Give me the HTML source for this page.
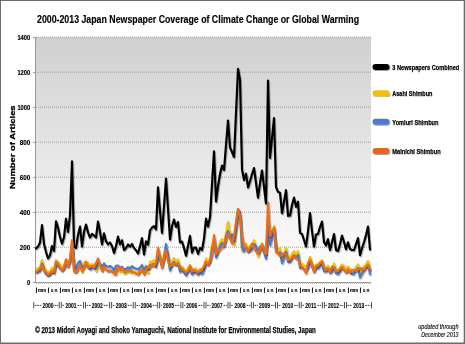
<!DOCTYPE html><html><head><meta charset="utf-8"><style>html,body{margin:0;padding:0;background:#fff;}svg{display:block;will-change:transform;}</style></head><body>
<svg width="465" height="344" viewBox="0 0 465 344">
<defs>
<linearGradient id="bg" x1="0" y1="0" x2="0" y2="1">
<stop offset="0" stop-color="#d0d0d0"/>
<stop offset="0.58" stop-color="#ebebeb"/>
<stop offset="0.8" stop-color="#f6f6f6"/>
<stop offset="1" stop-color="#ffffff"/>
</linearGradient>
<filter id="sh" x="-5%" y="-5%" width="110%" height="115%">
<feDropShadow dx="0.8" dy="1.2" stdDeviation="0.7" flood-color="#000" flood-opacity="0.35"/>
</filter>
</defs>
<rect x="0" y="0" width="465" height="344" fill="#fff"/>
<rect x="35.5" y="37" width="335.5" height="245" fill="url(#bg)"/>
<line x1="36" y1="247.2" x2="371" y2="247.2" stroke="#9e9e9e" stroke-width="1" stroke-dasharray="1,1"/>
<line x1="36" y1="212.2" x2="371" y2="212.2" stroke="#9e9e9e" stroke-width="1" stroke-dasharray="1,1"/>
<line x1="36" y1="177.2" x2="371" y2="177.2" stroke="#9e9e9e" stroke-width="1" stroke-dasharray="1,1"/>
<line x1="36" y1="142.2" x2="371" y2="142.2" stroke="#9e9e9e" stroke-width="1" stroke-dasharray="1,1"/>
<line x1="36" y1="107.2" x2="371" y2="107.2" stroke="#9e9e9e" stroke-width="1" stroke-dasharray="1,1"/>
<line x1="36" y1="72.2" x2="371" y2="72.2" stroke="#9e9e9e" stroke-width="1" stroke-dasharray="1,1"/>
<line x1="36" y1="37.2" x2="371" y2="37.2" stroke="#9e9e9e" stroke-width="1" stroke-dasharray="1,1"/>
<line x1="35.5" y1="37" x2="35.5" y2="282.5" stroke="#9a9a9a" stroke-width="1"/>
<line x1="33" y1="282.5" x2="35.5" y2="282.5" stroke="#9a9a9a" stroke-width="1"/>
<line x1="33" y1="247.5" x2="35.5" y2="247.5" stroke="#9a9a9a" stroke-width="1"/>
<line x1="33" y1="212.5" x2="35.5" y2="212.5" stroke="#9a9a9a" stroke-width="1"/>
<line x1="33" y1="177.5" x2="35.5" y2="177.5" stroke="#9a9a9a" stroke-width="1"/>
<line x1="33" y1="142.5" x2="35.5" y2="142.5" stroke="#9a9a9a" stroke-width="1"/>
<line x1="33" y1="107.5" x2="35.5" y2="107.5" stroke="#9a9a9a" stroke-width="1"/>
<line x1="33" y1="72.5" x2="35.5" y2="72.5" stroke="#9a9a9a" stroke-width="1"/>
<line x1="33" y1="37.5" x2="35.5" y2="37.5" stroke="#9a9a9a" stroke-width="1"/>
<line x1="35.5" y1="282.5" x2="371" y2="282.5" stroke="#8a8a8a" stroke-width="1"/>
<path d="M36.5,282 V284 M38.5,282 V284 M40.5,282 V284 M42.5,282 V284 M44.5,282 V284 M46.5,282 V284 M48.5,282 V284 M50.5,282 V284 M52.5,282 V284 M54.5,282 V284 M56.5,282 V284 M58.5,282 V284 M60.5,282 V284 M62.5,282 V284 M64.5,282 V284 M66.5,282 V284 M68.5,282 V284 M70.5,282 V284 M72.5,282 V284 M74.5,282 V284 M76.5,282 V284 M78.5,282 V284 M80.5,282 V284 M82.5,282 V284 M84.5,282 V284 M86.5,282 V284 M88.5,282 V284 M90.5,282 V284 M92.5,282 V284 M94.5,282 V284 M96.5,282 V284 M98.5,282 V284 M100.5,282 V284 M102.5,282 V284 M104.5,282 V284 M106.5,282 V284 M108.5,282 V284 M110.5,282 V284 M112.5,282 V284 M114.5,282 V284 M116.5,282 V284 M118.5,282 V284 M120.5,282 V284 M122.5,282 V284 M124.5,282 V284 M126.5,282 V284 M128.5,282 V284 M130.5,282 V284 M132.5,282 V284 M134.5,282 V284 M136.5,282 V284 M138.5,282 V284 M140.5,282 V284 M142.5,282 V284 M144.5,282 V284 M146.5,282 V284 M148.5,282 V284 M150.5,282 V284 M152.5,282 V284 M154.5,282 V284 M156.5,282 V284 M158.5,282 V284 M160.5,282 V284 M162.5,282 V284 M164.5,282 V284 M166.5,282 V284 M168.5,282 V284 M170.5,282 V284 M172.5,282 V284 M174.5,282 V284 M176.5,282 V284 M178.5,282 V284 M180.5,282 V284 M182.5,282 V284 M184.5,282 V284 M186.5,282 V284 M188.5,282 V284 M190.5,282 V284 M192.5,282 V284 M194.5,282 V284 M196.5,282 V284 M198.5,282 V284 M200.5,282 V284 M202.5,282 V284 M204.5,282 V284 M206.5,282 V284 M208.5,282 V284 M210.5,282 V284 M212.5,282 V284 M214.5,282 V284 M216.5,282 V284 M218.5,282 V284 M220.5,282 V284 M222.5,282 V284 M224.5,282 V284 M226.5,282 V284 M228.5,282 V284 M230.5,282 V284 M232.5,282 V284 M234.5,282 V284 M236.5,282 V284 M238.5,282 V284 M240.5,282 V284 M242.5,282 V284 M244.5,282 V284 M246.5,282 V284 M248.5,282 V284 M250.5,282 V284 M252.5,282 V284 M254.5,282 V284 M256.5,282 V284 M258.5,282 V284 M260.5,282 V284 M262.5,282 V284 M264.5,282 V284 M266.5,282 V284 M268.5,282 V284 M270.5,282 V284 M272.5,282 V284 M274.5,282 V284 M276.5,282 V284 M278.5,282 V284 M280.5,282 V284 M282.5,282 V284 M284.5,282 V284 M286.5,282 V284 M288.5,282 V284 M290.5,282 V284 M292.5,282 V284 M294.5,282 V284 M296.5,282 V284 M298.5,282 V284 M300.5,282 V284 M302.5,282 V284 M304.5,282 V284 M306.5,282 V284 M308.5,282 V284 M310.5,282 V284 M312.5,282 V284 M314.5,282 V284 M316.5,282 V284 M318.5,282 V284 M320.5,282 V284 M322.5,282 V284 M324.5,282 V284 M326.5,282 V284 M328.5,282 V284 M330.5,282 V284 M332.5,282 V284 M334.5,282 V284 M336.5,282 V284 M338.5,282 V284 M340.5,282 V284 M342.5,282 V284 M344.5,282 V284 M346.5,282 V284 M348.5,282 V284 M350.5,282 V284 M352.5,282 V284 M354.5,282 V284 M356.5,282 V284 M358.5,282 V284 M360.5,282 V284 M362.5,282 V284 M364.5,282 V284 M366.5,282 V284 M368.5,282 V284 M370.5,282 V284" stroke="#b4b4b4" stroke-width="1" fill="none"/>
<path d="M36.0,248.5 L38.0,246.5 L40.0,242.5 L42.0,225.0 L44.0,244.0 L46.0,252.0 L48.0,258.5 L50.0,255.3 L52.0,246.0 L54.0,251.0 L56.0,221.3 L58.0,227.6 L60.0,237.0 L62.0,243.8 L64.0,237.0 L66.0,218.7 L68.0,231.8 L70.0,215.0 L72.0,161.3 L74.0,246.0 L76.0,248.0 L78.0,235.0 L80.0,226.5 L82.0,246.4 L84.0,232.0 L86.0,224.5 L88.0,232.3 L90.0,237.5 L92.0,233.9 L94.0,235.4 L96.0,237.5 L98.0,221.5 L100.0,231.8 L102.0,244.3 L104.0,233.3 L106.0,241.2 L108.0,244.3 L110.0,242.5 L112.0,246.0 L114.0,253.0 L116.0,246.0 L118.0,236.5 L120.0,244.4 L122.0,240.3 L124.0,250.0 L126.0,248.0 L128.0,244.5 L130.0,246.6 L132.0,244.0 L134.0,248.1 L136.0,250.2 L138.0,253.4 L140.0,246.0 L142.0,238.2 L144.0,254.4 L146.0,241.3 L148.0,244.5 L150.0,230.4 L152.0,227.5 L154.0,226.2 L156.0,229.3 L158.0,187.3 L160.0,211.0 L162.0,233.0 L164.0,206.0 L166.0,178.5 L168.0,209.0 L170.0,239.5 L172.0,226.0 L174.0,219.5 L176.0,227.0 L178.0,222.0 L180.0,242.5 L182.0,241.6 L184.0,248.0 L186.0,255.7 L188.0,246.0 L190.0,235.8 L192.0,252.6 L194.0,247.5 L196.0,247.5 L198.0,254.0 L200.0,248.0 L202.0,250.0 L204.0,238.5 L206.0,218.5 L208.0,226.6 L210.0,217.0 L212.0,184.0 L214.0,151.3 L216.0,201.5 L218.0,186.0 L220.0,174.0 L222.0,165.5 L224.0,170.0 L226.0,145.0 L228.0,120.5 L230.0,147.5 L232.0,152.0 L234.0,157.0 L236.0,113.0 L238.0,68.8 L240.0,80.0 L242.0,169.5 L244.0,180.0 L246.0,173.7 L248.0,187.3 L250.0,181.0 L252.0,174.0 L254.0,168.0 L256.0,183.0 L258.0,197.6 L260.0,183.0 L262.0,170.5 L264.0,187.0 L266.0,203.5 L268.0,80.5 L270.0,158.0 L272.0,138.0 L274.0,118.0 L276.0,187.0 L278.0,191.8 L280.0,192.8 L282.0,213.2 L284.0,201.7 L286.0,190.2 L288.0,215.8 L290.0,215.5 L292.0,205.0 L294.0,197.5 L296.0,206.9 L298.0,201.7 L300.0,232.9 L302.0,234.0 L304.0,240.0 L306.0,246.5 L308.0,231.0 L310.0,213.0 L312.0,231.0 L314.0,246.5 L316.0,234.5 L318.0,234.0 L320.0,227.0 L322.0,221.5 L324.0,242.2 L326.0,245.3 L328.0,239.2 L330.0,250.0 L332.0,242.0 L334.0,234.0 L336.0,250.0 L338.0,251.0 L340.0,244.0 L342.0,235.5 L344.0,242.0 L346.0,249.3 L348.0,242.3 L350.0,249.0 L352.0,250.0 L354.0,250.0 L356.0,244.0 L358.0,238.0 L360.0,255.1 L362.0,248.0 L364.0,242.0 L366.0,235.0 L368.0,226.5 L370.0,249.5" fill="none" stroke="#000" stroke-width="2.15" stroke-linejoin="round" stroke-linecap="round" filter="url(#sh)"/>
<path d="M36.0,268.4 L38.0,268.2 L40.0,267.0 L42.0,259.8 L44.0,266.9 L46.0,270.1 L48.0,272.1 L50.0,271.2 L52.0,267.4 L54.0,269.6 L56.0,260.0 L58.0,262.1 L60.0,264.7 L62.0,266.8 L64.0,265.0 L66.0,259.8 L68.0,262.7 L70.0,257.9 L72.0,240.8 L74.0,271.2 L76.0,271.9 L78.0,266.7 L80.0,264.6 L82.0,271.9 L84.0,262.2 L86.0,261.4 L88.0,262.4 L90.0,265.5 L92.0,264.2 L94.0,264.2 L96.0,271.1 L98.0,265.4 L100.0,267.5 L102.0,270.8 L104.0,267.2 L106.0,269.8 L108.0,270.5 L110.0,269.6 L112.0,271.2 L114.0,273.9 L116.0,269.6 L118.0,269.3 L120.0,271.4 L122.0,270.4 L124.0,273.2 L126.0,272.7 L128.0,270.9 L130.0,272.2 L132.0,269.9 L134.0,271.7 L136.0,272.2 L138.0,273.3 L140.0,271.2 L142.0,268.8 L144.0,274.1 L146.0,269.9 L148.0,272.8 L150.0,261.4 L152.0,261.8 L154.0,260.1 L156.0,263.2 L158.0,249.8 L160.0,256.6 L162.0,262.7 L164.0,254.1 L166.0,248.0 L168.0,254.1 L170.0,266.5 L172.0,260.6 L174.0,258.1 L176.0,261.6 L178.0,259.3 L180.0,268.0 L182.0,266.5 L184.0,268.9 L186.0,271.7 L188.0,267.9 L190.0,265.2 L192.0,270.7 L194.0,268.9 L196.0,268.4 L198.0,270.9 L200.0,268.9 L202.0,270.5 L204.0,266.2 L206.0,258.6 L208.0,261.1 L210.0,258.4 L212.0,245.0 L214.0,238.2 L216.0,253.6 L218.0,247.5 L220.0,242.5 L222.0,239.1 L224.0,242.8 L226.0,232.8 L228.0,222.0 L230.0,234.8 L232.0,238.2 L234.0,244.4 L236.0,229.4 L238.0,213.9 L240.0,215.9 L242.0,250.7 L244.0,247.3 L246.0,243.4 L248.0,248.0 L250.0,246.9 L252.0,245.3 L254.0,240.2 L256.0,249.7 L258.0,256.1 L260.0,250.5 L262.0,243.1 L264.0,248.7 L266.0,254.8 L268.0,219.2 L270.0,241.1 L272.0,233.6 L274.0,226.0 L276.0,248.1 L278.0,249.5 L280.0,248.4 L282.0,259.4 L284.0,254.4 L286.0,247.8 L288.0,258.1 L290.0,258.2 L292.0,253.7 L294.0,251.2 L296.0,254.7 L298.0,251.1 L300.0,264.1 L302.0,263.6 L304.0,265.3 L306.0,266.7 L308.0,264.2 L310.0,256.8 L312.0,263.2 L314.0,267.3 L316.0,264.4 L318.0,264.4 L320.0,262.0 L322.0,260.2 L324.0,267.7 L326.0,267.7 L328.0,265.7 L330.0,269.0 L332.0,267.9 L334.0,263.4 L336.0,269.5 L338.0,270.2 L340.0,267.6 L342.0,264.4 L344.0,266.3 L346.0,268.7 L348.0,266.7 L350.0,268.5 L352.0,270.1 L354.0,270.1 L356.0,266.8 L358.0,264.3 L360.0,273.7 L362.0,269.8 L364.0,266.3 L366.0,264.4 L368.0,260.9 L370.0,270.3" fill="none" stroke="#f5c400" stroke-width="2.15" stroke-linejoin="round" stroke-linecap="round" filter="url(#sh)"/>
<path d="M36.0,272.1 L38.0,271.9 L40.0,270.8 L42.0,263.6 L44.0,270.7 L46.0,273.9 L48.0,275.8 L50.0,275.0 L52.0,271.2 L54.0,273.4 L56.0,263.8 L58.0,265.9 L60.0,268.5 L62.0,270.6 L64.0,268.8 L66.0,263.6 L68.0,266.4 L70.0,261.7 L72.0,244.6 L74.0,267.4 L76.0,268.1 L78.0,262.9 L80.0,260.9 L82.0,268.1 L84.0,266.0 L86.0,265.1 L88.0,266.1 L90.0,269.3 L92.0,268.0 L94.0,267.9 L96.0,267.4 L98.0,261.7 L100.0,263.7 L102.0,267.1 L104.0,263.4 L106.0,266.1 L108.0,266.8 L110.0,265.9 L112.0,267.4 L114.0,270.1 L116.0,265.8 L118.0,265.5 L120.0,267.7 L122.0,266.6 L124.0,269.4 L126.0,268.9 L128.0,267.2 L130.0,268.5 L132.0,266.1 L134.0,267.9 L136.0,268.5 L138.0,269.5 L140.0,267.4 L142.0,265.1 L144.0,270.3 L146.0,266.1 L148.0,269.0 L150.0,265.2 L152.0,265.6 L154.0,263.9 L156.0,267.0 L158.0,253.7 L160.0,260.4 L162.0,266.5 L164.0,257.9 L166.0,244.0 L168.0,257.9 L170.0,270.3 L172.0,264.4 L174.0,261.8 L176.0,265.3 L178.0,263.1 L180.0,271.8 L182.0,270.3 L184.0,272.7 L186.0,275.5 L188.0,271.7 L190.0,268.9 L192.0,274.5 L194.0,272.7 L196.0,272.2 L198.0,274.6 L200.0,272.7 L202.0,274.2 L204.0,270.0 L206.0,262.4 L208.0,264.9 L210.0,262.1 L212.0,248.8 L214.0,242.1 L216.0,257.4 L218.0,251.3 L220.0,246.3 L222.0,242.9 L224.0,246.6 L226.0,236.7 L228.0,231.0 L230.0,238.7 L232.0,234.3 L234.0,240.6 L236.0,225.6 L238.0,210.1 L240.0,212.1 L242.0,246.8 L244.0,251.2 L246.0,247.2 L248.0,251.8 L250.0,250.8 L252.0,249.2 L254.0,244.1 L256.0,245.9 L258.0,252.3 L260.0,246.7 L262.0,246.9 L264.0,252.5 L266.0,258.6 L268.0,223.0 L270.0,244.9 L272.0,237.4 L274.0,228.0 L276.0,251.9 L278.0,253.3 L280.0,252.2 L282.0,263.1 L284.0,258.2 L286.0,251.7 L288.0,261.9 L290.0,261.9 L292.0,257.5 L294.0,255.1 L296.0,258.4 L298.0,254.9 L300.0,267.9 L302.0,267.4 L304.0,269.1 L306.0,270.5 L308.0,268.0 L310.0,260.5 L312.0,266.9 L314.0,271.1 L316.0,268.1 L318.0,268.2 L320.0,265.8 L322.0,264.0 L324.0,271.5 L326.0,271.5 L328.0,269.5 L330.0,272.8 L332.0,271.6 L334.0,267.1 L336.0,273.3 L338.0,274.0 L340.0,271.3 L342.0,268.1 L344.0,270.1 L346.0,272.4 L348.0,270.5 L350.0,272.3 L352.0,273.8 L354.0,273.8 L356.0,270.5 L358.0,268.1 L360.0,277.4 L362.0,273.6 L364.0,270.1 L366.0,268.1 L368.0,264.7 L370.0,274.1" fill="none" stroke="#4a78cc" stroke-width="2.15" stroke-linejoin="round" stroke-linecap="round" filter="url(#sh)"/>
<path d="M36.0,272.0 L38.0,270.4 L40.0,268.8 L42.0,265.7 L44.0,270.4 L46.0,272.0 L48.0,274.6 L50.0,273.0 L52.0,271.4 L54.0,272.0 L56.0,261.5 L58.0,263.6 L60.0,267.8 L62.0,270.4 L64.0,267.3 L66.0,259.4 L68.0,266.7 L70.0,259.4 L72.0,240.0 L74.0,271.4 L76.0,272.0 L78.0,269.3 L80.0,265.0 L82.0,270.4 L84.0,267.8 L86.0,262.0 L88.0,267.8 L90.0,266.7 L92.0,265.7 L94.0,267.3 L96.0,263.0 L98.0,258.4 L100.0,264.6 L102.0,270.4 L104.0,266.7 L106.0,269.3 L108.0,271.0 L110.0,271.0 L112.0,271.4 L114.0,273.0 L116.0,274.6 L118.0,265.7 L120.0,269.3 L122.0,267.3 L124.0,271.4 L126.0,270.4 L128.0,270.4 L130.0,269.9 L132.0,272.0 L134.0,272.5 L136.0,273.5 L138.0,274.6 L140.0,271.4 L142.0,268.3 L144.0,274.0 L146.0,269.3 L148.0,266.7 L150.0,267.8 L152.0,264.1 L154.0,266.2 L156.0,263.1 L158.0,247.8 L160.0,258.0 L162.0,267.8 L164.0,258.0 L166.0,250.0 L168.0,261.0 L170.0,266.7 L172.0,265.0 L174.0,263.6 L176.0,264.1 L178.0,263.6 L180.0,266.7 L182.0,268.8 L184.0,270.4 L186.0,272.5 L188.0,270.4 L190.0,265.7 L192.0,271.4 L194.0,269.9 L196.0,270.9 L198.0,272.5 L200.0,270.4 L202.0,269.3 L204.0,266.2 L206.0,261.5 L208.0,264.6 L210.0,260.5 L212.0,254.2 L214.0,235.0 L216.0,254.5 L218.0,251.2 L220.0,249.2 L222.0,247.5 L224.0,244.6 L226.0,239.5 L228.0,233.6 L230.0,238.0 L232.0,243.5 L234.0,236.0 L236.0,222.0 L238.0,208.8 L240.0,216.0 L242.0,236.0 L244.0,245.5 L246.0,247.0 L248.0,251.5 L250.0,247.3 L252.0,243.5 L254.0,247.7 L256.0,251.4 L258.0,253.2 L260.0,249.8 L262.0,244.4 L264.0,249.8 L266.0,254.0 L268.0,202.3 L270.0,236.0 L272.0,231.0 L274.0,229.0 L276.0,251.0 L278.0,253.1 L280.0,256.2 L282.0,254.7 L284.0,253.1 L286.0,254.7 L288.0,259.9 L290.0,259.4 L292.0,257.8 L294.0,255.2 L296.0,257.8 L298.0,259.6 L300.0,264.9 L302.0,267.0 L304.0,269.6 L306.0,273.3 L308.0,262.8 L310.0,259.7 L312.0,264.9 L314.0,272.2 L316.0,266.0 L318.0,265.4 L320.0,263.3 L322.0,261.3 L324.0,267.0 L326.0,270.1 L328.0,268.0 L330.0,272.2 L332.0,266.5 L334.0,267.5 L336.0,271.2 L338.0,270.7 L340.0,269.1 L342.0,267.0 L344.0,269.6 L346.0,272.2 L348.0,269.1 L350.0,272.2 L352.0,270.1 L354.0,270.1 L356.0,270.7 L358.0,269.6 L360.0,268.0 L362.0,268.6 L364.0,269.6 L366.0,266.5 L368.0,264.9 L370.0,269.1" fill="none" stroke="#ee6a1a" stroke-width="2.15" stroke-linejoin="round" stroke-linecap="round" filter="url(#sh)"/>
<text x="37" y="22.7" font-family='"Liberation Sans", sans-serif' font-weight="bold" font-size="10.2" textLength="322" lengthAdjust="spacingAndGlyphs" fill="#000" stroke="#000" stroke-width="0.15">2000-2013 Japan Newspaper Coverage of Climate Change or Global Warming</text>
<text x="30.2" y="284.7" font-family='"Liberation Sans", sans-serif' font-weight="bold" font-size="7.6" text-anchor="end" textLength="3.3" lengthAdjust="spacingAndGlyphs" fill="#000" stroke="#000" stroke-width="0.2">0</text>
<text x="30.2" y="249.7" font-family='"Liberation Sans", sans-serif' font-weight="bold" font-size="7.6" text-anchor="end" textLength="10.5" lengthAdjust="spacingAndGlyphs" fill="#000" stroke="#000" stroke-width="0.2">200</text>
<text x="30.2" y="214.7" font-family='"Liberation Sans", sans-serif' font-weight="bold" font-size="7.6" text-anchor="end" textLength="10.5" lengthAdjust="spacingAndGlyphs" fill="#000" stroke="#000" stroke-width="0.2">400</text>
<text x="30.2" y="179.7" font-family='"Liberation Sans", sans-serif' font-weight="bold" font-size="7.6" text-anchor="end" textLength="10.5" lengthAdjust="spacingAndGlyphs" fill="#000" stroke="#000" stroke-width="0.2">600</text>
<text x="30.2" y="144.7" font-family='"Liberation Sans", sans-serif' font-weight="bold" font-size="7.6" text-anchor="end" textLength="10.5" lengthAdjust="spacingAndGlyphs" fill="#000" stroke="#000" stroke-width="0.2">800</text>
<text x="30.2" y="109.7" font-family='"Liberation Sans", sans-serif' font-weight="bold" font-size="7.6" text-anchor="end" textLength="12.8" lengthAdjust="spacingAndGlyphs" fill="#000" stroke="#000" stroke-width="0.2">1000</text>
<text x="30.2" y="74.7" font-family='"Liberation Sans", sans-serif' font-weight="bold" font-size="7.6" text-anchor="end" textLength="12.8" lengthAdjust="spacingAndGlyphs" fill="#000" stroke="#000" stroke-width="0.2">1200</text>
<text x="30.2" y="39.7" font-family='"Liberation Sans", sans-serif' font-weight="bold" font-size="7.6" text-anchor="end" textLength="12.8" lengthAdjust="spacingAndGlyphs" fill="#000" stroke="#000" stroke-width="0.2">1400</text>
<text transform="translate(14.6,189.1) rotate(-90)" x="0" y="0" font-family='"Liberation Sans", sans-serif' font-weight="bold" font-size="7.8" textLength="83.7" lengthAdjust="spacingAndGlyphs" fill="#000" stroke="#000" stroke-width="0.3">Number of Articles</text>
<g font-family='"Liberation Sans", sans-serif' font-size="6.1" font-weight="bold" fill="#000" stroke="#000" stroke-width="0.12"><rect x="36.00" y="287.6" width="0.9" height="5.4" fill="#111"/><text x="40.0" y="291.7" text-anchor="middle" textLength="4.2" lengthAdjust="spacingAndGlyphs">m</text><text x="44.0" y="291.7" text-anchor="middle" textLength="4.2" lengthAdjust="spacingAndGlyphs">m</text><rect x="48.00" y="287.6" width="0.9" height="5.4" fill="#111"/><text x="52.0" y="291.7" text-anchor="middle" textLength="2.7" lengthAdjust="spacingAndGlyphs">s</text><text x="56.0" y="291.7" text-anchor="middle" textLength="2.9" lengthAdjust="spacingAndGlyphs">n</text><rect x="60.00" y="287.6" width="0.9" height="5.4" fill="#111"/><text x="64.0" y="291.7" text-anchor="middle" textLength="4.2" lengthAdjust="spacingAndGlyphs">m</text><text x="68.0" y="291.7" text-anchor="middle" textLength="4.2" lengthAdjust="spacingAndGlyphs">m</text><rect x="72.00" y="287.6" width="0.9" height="5.4" fill="#111"/><text x="76.0" y="291.7" text-anchor="middle" textLength="2.7" lengthAdjust="spacingAndGlyphs">s</text><text x="80.0" y="291.7" text-anchor="middle" textLength="2.9" lengthAdjust="spacingAndGlyphs">n</text><rect x="84.00" y="287.6" width="0.9" height="5.4" fill="#111"/><text x="88.0" y="291.7" text-anchor="middle" textLength="4.2" lengthAdjust="spacingAndGlyphs">m</text><text x="92.0" y="291.7" text-anchor="middle" textLength="4.2" lengthAdjust="spacingAndGlyphs">m</text><rect x="96.00" y="287.6" width="0.9" height="5.4" fill="#111"/><text x="100.0" y="291.7" text-anchor="middle" textLength="2.7" lengthAdjust="spacingAndGlyphs">s</text><text x="104.0" y="291.7" text-anchor="middle" textLength="2.9" lengthAdjust="spacingAndGlyphs">n</text><rect x="108.00" y="287.6" width="0.9" height="5.4" fill="#111"/><text x="112.0" y="291.7" text-anchor="middle" textLength="4.2" lengthAdjust="spacingAndGlyphs">m</text><text x="116.0" y="291.7" text-anchor="middle" textLength="4.2" lengthAdjust="spacingAndGlyphs">m</text><rect x="120.00" y="287.6" width="0.9" height="5.4" fill="#111"/><text x="124.0" y="291.7" text-anchor="middle" textLength="2.7" lengthAdjust="spacingAndGlyphs">s</text><text x="128.0" y="291.7" text-anchor="middle" textLength="2.9" lengthAdjust="spacingAndGlyphs">n</text><rect x="132.00" y="287.6" width="0.9" height="5.4" fill="#111"/><text x="136.0" y="291.7" text-anchor="middle" textLength="4.2" lengthAdjust="spacingAndGlyphs">m</text><text x="140.0" y="291.7" text-anchor="middle" textLength="4.2" lengthAdjust="spacingAndGlyphs">m</text><rect x="144.00" y="287.6" width="0.9" height="5.4" fill="#111"/><text x="148.0" y="291.7" text-anchor="middle" textLength="2.7" lengthAdjust="spacingAndGlyphs">s</text><text x="152.0" y="291.7" text-anchor="middle" textLength="2.9" lengthAdjust="spacingAndGlyphs">n</text><rect x="156.00" y="287.6" width="0.9" height="5.4" fill="#111"/><text x="160.0" y="291.7" text-anchor="middle" textLength="4.2" lengthAdjust="spacingAndGlyphs">m</text><text x="164.0" y="291.7" text-anchor="middle" textLength="4.2" lengthAdjust="spacingAndGlyphs">m</text><rect x="168.00" y="287.6" width="0.9" height="5.4" fill="#111"/><text x="172.0" y="291.7" text-anchor="middle" textLength="2.7" lengthAdjust="spacingAndGlyphs">s</text><text x="176.0" y="291.7" text-anchor="middle" textLength="2.9" lengthAdjust="spacingAndGlyphs">n</text><rect x="180.00" y="287.6" width="0.9" height="5.4" fill="#111"/><text x="184.0" y="291.7" text-anchor="middle" textLength="4.2" lengthAdjust="spacingAndGlyphs">m</text><text x="188.0" y="291.7" text-anchor="middle" textLength="4.2" lengthAdjust="spacingAndGlyphs">m</text><rect x="192.00" y="287.6" width="0.9" height="5.4" fill="#111"/><text x="196.0" y="291.7" text-anchor="middle" textLength="2.7" lengthAdjust="spacingAndGlyphs">s</text><text x="200.0" y="291.7" text-anchor="middle" textLength="2.9" lengthAdjust="spacingAndGlyphs">n</text><rect x="204.00" y="287.6" width="0.9" height="5.4" fill="#111"/><text x="208.0" y="291.7" text-anchor="middle" textLength="4.2" lengthAdjust="spacingAndGlyphs">m</text><text x="212.0" y="291.7" text-anchor="middle" textLength="4.2" lengthAdjust="spacingAndGlyphs">m</text><rect x="216.00" y="287.6" width="0.9" height="5.4" fill="#111"/><text x="220.0" y="291.7" text-anchor="middle" textLength="2.7" lengthAdjust="spacingAndGlyphs">s</text><text x="224.0" y="291.7" text-anchor="middle" textLength="2.9" lengthAdjust="spacingAndGlyphs">n</text><rect x="228.00" y="287.6" width="0.9" height="5.4" fill="#111"/><text x="232.0" y="291.7" text-anchor="middle" textLength="4.2" lengthAdjust="spacingAndGlyphs">m</text><text x="236.0" y="291.7" text-anchor="middle" textLength="4.2" lengthAdjust="spacingAndGlyphs">m</text><rect x="240.00" y="287.6" width="0.9" height="5.4" fill="#111"/><text x="244.0" y="291.7" text-anchor="middle" textLength="2.7" lengthAdjust="spacingAndGlyphs">s</text><text x="248.0" y="291.7" text-anchor="middle" textLength="2.9" lengthAdjust="spacingAndGlyphs">n</text><rect x="252.00" y="287.6" width="0.9" height="5.4" fill="#111"/><text x="256.0" y="291.7" text-anchor="middle" textLength="4.2" lengthAdjust="spacingAndGlyphs">m</text><text x="260.0" y="291.7" text-anchor="middle" textLength="4.2" lengthAdjust="spacingAndGlyphs">m</text><rect x="264.00" y="287.6" width="0.9" height="5.4" fill="#111"/><text x="268.0" y="291.7" text-anchor="middle" textLength="2.7" lengthAdjust="spacingAndGlyphs">s</text><text x="272.0" y="291.7" text-anchor="middle" textLength="2.9" lengthAdjust="spacingAndGlyphs">n</text><rect x="276.00" y="287.6" width="0.9" height="5.4" fill="#111"/><text x="280.0" y="291.7" text-anchor="middle" textLength="4.2" lengthAdjust="spacingAndGlyphs">m</text><text x="284.0" y="291.7" text-anchor="middle" textLength="4.2" lengthAdjust="spacingAndGlyphs">m</text><rect x="288.00" y="287.6" width="0.9" height="5.4" fill="#111"/><text x="292.0" y="291.7" text-anchor="middle" textLength="2.7" lengthAdjust="spacingAndGlyphs">s</text><text x="296.0" y="291.7" text-anchor="middle" textLength="2.9" lengthAdjust="spacingAndGlyphs">n</text><rect x="300.00" y="287.6" width="0.9" height="5.4" fill="#111"/><text x="304.0" y="291.7" text-anchor="middle" textLength="4.2" lengthAdjust="spacingAndGlyphs">m</text><text x="308.0" y="291.7" text-anchor="middle" textLength="4.2" lengthAdjust="spacingAndGlyphs">m</text><rect x="312.00" y="287.6" width="0.9" height="5.4" fill="#111"/><text x="316.0" y="291.7" text-anchor="middle" textLength="2.7" lengthAdjust="spacingAndGlyphs">s</text><text x="320.0" y="291.7" text-anchor="middle" textLength="2.9" lengthAdjust="spacingAndGlyphs">n</text><rect x="324.00" y="287.6" width="0.9" height="5.4" fill="#111"/><text x="328.0" y="291.7" text-anchor="middle" textLength="4.2" lengthAdjust="spacingAndGlyphs">m</text><text x="332.0" y="291.7" text-anchor="middle" textLength="4.2" lengthAdjust="spacingAndGlyphs">m</text><rect x="336.00" y="287.6" width="0.9" height="5.4" fill="#111"/><text x="340.0" y="291.7" text-anchor="middle" textLength="2.7" lengthAdjust="spacingAndGlyphs">s</text><text x="344.0" y="291.7" text-anchor="middle" textLength="2.9" lengthAdjust="spacingAndGlyphs">n</text><rect x="348.00" y="287.6" width="0.9" height="5.4" fill="#111"/><text x="352.0" y="291.7" text-anchor="middle" textLength="4.2" lengthAdjust="spacingAndGlyphs">m</text><text x="356.0" y="291.7" text-anchor="middle" textLength="4.2" lengthAdjust="spacingAndGlyphs">m</text><rect x="360.00" y="287.6" width="0.9" height="5.4" fill="#111"/><text x="364.0" y="291.7" text-anchor="middle" textLength="2.7" lengthAdjust="spacingAndGlyphs">s</text><text x="368.0" y="291.7" text-anchor="middle" textLength="2.9" lengthAdjust="spacingAndGlyphs">n</text></g>
<g font-family='"Liberation Sans", sans-serif' font-size="7.4" fill="#000" font-weight="bold"><text x="48.0" y="307.7" text-anchor="middle" textLength="11" lengthAdjust="spacingAndGlyphs" stroke="#000" stroke-width="0.15">2000</text><text x="71.0" y="307.7" text-anchor="middle" textLength="11" lengthAdjust="spacingAndGlyphs" stroke="#000" stroke-width="0.15">2001</text><text x="97.2" y="307.7" text-anchor="middle" textLength="11" lengthAdjust="spacingAndGlyphs" stroke="#000" stroke-width="0.15">2002</text><text x="121.2" y="307.7" text-anchor="middle" textLength="11" lengthAdjust="spacingAndGlyphs" stroke="#000" stroke-width="0.15">2003</text><text x="146.3" y="307.7" text-anchor="middle" textLength="11" lengthAdjust="spacingAndGlyphs" stroke="#000" stroke-width="0.15">2004</text><text x="168.5" y="307.7" text-anchor="middle" textLength="11" lengthAdjust="spacingAndGlyphs" stroke="#000" stroke-width="0.15">2005</text><text x="191.8" y="307.7" text-anchor="middle" textLength="11" lengthAdjust="spacingAndGlyphs" stroke="#000" stroke-width="0.15">2006</text><text x="217.0" y="307.7" text-anchor="middle" textLength="11" lengthAdjust="spacingAndGlyphs" stroke="#000" stroke-width="0.15">2007</text><text x="240.1" y="307.7" text-anchor="middle" textLength="11" lengthAdjust="spacingAndGlyphs" stroke="#000" stroke-width="0.15">2008</text><text x="264.4" y="307.7" text-anchor="middle" textLength="11" lengthAdjust="spacingAndGlyphs" stroke="#000" stroke-width="0.15">2009</text><text x="287.7" y="307.7" text-anchor="middle" textLength="11" lengthAdjust="spacingAndGlyphs" stroke="#000" stroke-width="0.15">2010</text><text x="310.8" y="307.7" text-anchor="middle" textLength="11" lengthAdjust="spacingAndGlyphs" stroke="#000" stroke-width="0.15">2011</text><text x="333.5" y="307.7" text-anchor="middle" textLength="11" lengthAdjust="spacingAndGlyphs" stroke="#000" stroke-width="0.15">2012</text><text x="358.7" y="307.7" text-anchor="middle" textLength="11" lengthAdjust="spacingAndGlyphs" stroke="#000" stroke-width="0.15">2013</text><rect x="33.40" y="302" width="0.8" height="6.4" fill="#222"/><rect x="371.20" y="302" width="0.8" height="6.4" fill="#222"/><rect x="58.80" y="302" width="0.8" height="6.4" fill="#222"/><rect x="60.80" y="302" width="0.8" height="6.4" fill="#222"/><rect x="83.10" y="302" width="0.8" height="6.4" fill="#222"/><rect x="85.10" y="302" width="0.8" height="6.4" fill="#222"/><rect x="109.30" y="302" width="0.8" height="6.4" fill="#222"/><rect x="111.30" y="302" width="0.8" height="6.4" fill="#222"/><rect x="132.80" y="302" width="0.8" height="6.4" fill="#222"/><rect x="134.80" y="302" width="0.8" height="6.4" fill="#222"/><rect x="157.30" y="302" width="0.8" height="6.4" fill="#222"/><rect x="159.30" y="302" width="0.8" height="6.4" fill="#222"/><rect x="180.50" y="302" width="0.8" height="6.4" fill="#222"/><rect x="182.50" y="302" width="0.8" height="6.4" fill="#222"/><rect x="203.60" y="302" width="0.8" height="6.4" fill="#222"/><rect x="205.60" y="302" width="0.8" height="6.4" fill="#222"/><rect x="227.60" y="302" width="0.8" height="6.4" fill="#222"/><rect x="229.60" y="302" width="0.8" height="6.4" fill="#222"/><rect x="250.90" y="302" width="0.8" height="6.4" fill="#222"/><rect x="252.90" y="302" width="0.8" height="6.4" fill="#222"/><rect x="275.20" y="302" width="0.8" height="6.4" fill="#222"/><rect x="277.20" y="302" width="0.8" height="6.4" fill="#222"/><rect x="298.80" y="302" width="0.8" height="6.4" fill="#222"/><rect x="300.80" y="302" width="0.8" height="6.4" fill="#222"/><rect x="321.90" y="302" width="0.8" height="6.4" fill="#222"/><rect x="323.90" y="302" width="0.8" height="6.4" fill="#222"/><rect x="344.00" y="302" width="0.8" height="6.4" fill="#222"/><rect x="346.00" y="302" width="0.8" height="6.4" fill="#222"/><line x1="34.90" y1="305.4" x2="41.50" y2="305.4" stroke="#111" stroke-width="0.8" stroke-dasharray="1.7,0.7"/><line x1="54.50" y1="305.4" x2="58.10" y2="305.4" stroke="#111" stroke-width="0.8" stroke-dasharray="1.7,0.7"/><line x1="62.30" y1="305.4" x2="64.50" y2="305.4" stroke="#111" stroke-width="0.8" stroke-dasharray="1.7,0.7"/><line x1="77.50" y1="305.4" x2="82.40" y2="305.4" stroke="#111" stroke-width="0.8" stroke-dasharray="1.7,0.7"/><line x1="86.60" y1="305.4" x2="90.70" y2="305.4" stroke="#111" stroke-width="0.8" stroke-dasharray="1.7,0.7"/><line x1="103.70" y1="305.4" x2="108.60" y2="305.4" stroke="#111" stroke-width="0.8" stroke-dasharray="1.7,0.7"/><line x1="112.80" y1="305.4" x2="114.70" y2="305.4" stroke="#111" stroke-width="0.8" stroke-dasharray="1.7,0.7"/><line x1="127.70" y1="305.4" x2="132.10" y2="305.4" stroke="#111" stroke-width="0.8" stroke-dasharray="1.7,0.7"/><line x1="136.30" y1="305.4" x2="139.80" y2="305.4" stroke="#111" stroke-width="0.8" stroke-dasharray="1.7,0.7"/><line x1="152.80" y1="305.4" x2="156.60" y2="305.4" stroke="#111" stroke-width="0.8" stroke-dasharray="1.7,0.7"/><line x1="160.80" y1="305.4" x2="162.00" y2="305.4" stroke="#111" stroke-width="0.8" stroke-dasharray="1.7,0.7"/><line x1="175.00" y1="305.4" x2="179.80" y2="305.4" stroke="#111" stroke-width="0.8" stroke-dasharray="1.7,0.7"/><line x1="184.00" y1="305.4" x2="185.30" y2="305.4" stroke="#111" stroke-width="0.8" stroke-dasharray="1.7,0.7"/><line x1="198.30" y1="305.4" x2="202.90" y2="305.4" stroke="#111" stroke-width="0.8" stroke-dasharray="1.7,0.7"/><line x1="207.10" y1="305.4" x2="210.50" y2="305.4" stroke="#111" stroke-width="0.8" stroke-dasharray="1.7,0.7"/><line x1="223.50" y1="305.4" x2="226.90" y2="305.4" stroke="#111" stroke-width="0.8" stroke-dasharray="1.7,0.7"/><line x1="231.10" y1="305.4" x2="233.60" y2="305.4" stroke="#111" stroke-width="0.8" stroke-dasharray="1.7,0.7"/><line x1="246.60" y1="305.4" x2="250.20" y2="305.4" stroke="#111" stroke-width="0.8" stroke-dasharray="1.7,0.7"/><line x1="254.40" y1="305.4" x2="257.90" y2="305.4" stroke="#111" stroke-width="0.8" stroke-dasharray="1.7,0.7"/><line x1="270.90" y1="305.4" x2="274.50" y2="305.4" stroke="#111" stroke-width="0.8" stroke-dasharray="1.7,0.7"/><line x1="278.70" y1="305.4" x2="281.20" y2="305.4" stroke="#111" stroke-width="0.8" stroke-dasharray="1.7,0.7"/><line x1="294.20" y1="305.4" x2="298.10" y2="305.4" stroke="#111" stroke-width="0.8" stroke-dasharray="1.7,0.7"/><line x1="302.30" y1="305.4" x2="304.30" y2="305.4" stroke="#111" stroke-width="0.8" stroke-dasharray="1.7,0.7"/><line x1="317.30" y1="305.4" x2="321.20" y2="305.4" stroke="#111" stroke-width="0.8" stroke-dasharray="1.7,0.7"/><line x1="325.40" y1="305.4" x2="327.00" y2="305.4" stroke="#111" stroke-width="0.8" stroke-dasharray="1.7,0.7"/><line x1="340.00" y1="305.4" x2="343.30" y2="305.4" stroke="#111" stroke-width="0.8" stroke-dasharray="1.7,0.7"/><line x1="347.50" y1="305.4" x2="352.20" y2="305.4" stroke="#111" stroke-width="0.8" stroke-dasharray="1.7,0.7"/><line x1="365.20" y1="305.4" x2="370.50" y2="305.4" stroke="#111" stroke-width="0.8" stroke-dasharray="1.7,0.7"/></g>
<rect x="372.5" y="64.0" width="17" height="6" rx="3" ry="3" fill="#000" filter="url(#sh)"/>
<text x="392.3" y="69.8" font-family='"Liberation Sans", sans-serif' font-weight="bold" font-size="7.2" textLength="67.0" lengthAdjust="spacingAndGlyphs" fill="#000" stroke="#000" stroke-width="0.25">3 Newspapers Combined</text>
<rect x="372.5" y="90.2" width="17" height="6" rx="3" ry="3" fill="#f5c000" filter="url(#sh)"/>
<text x="392.3" y="96.0" font-family='"Liberation Sans", sans-serif' font-weight="bold" font-size="7.2" textLength="40.2" lengthAdjust="spacingAndGlyphs" fill="#000" stroke="#000" stroke-width="0.25">Asahi Shimbun</text>
<rect x="372.5" y="118.8" width="17" height="6" rx="3" ry="3" fill="#4f7acc" filter="url(#sh)"/>
<text x="392.3" y="124.6" font-family='"Liberation Sans", sans-serif' font-weight="bold" font-size="7.2" textLength="46.2" lengthAdjust="spacingAndGlyphs" fill="#000" stroke="#000" stroke-width="0.25">Yomiuri Shimbun</text>
<rect x="372.5" y="148.0" width="17" height="6" rx="3" ry="3" fill="#e8651a" filter="url(#sh)"/>
<text x="392.3" y="153.8" font-family='"Liberation Sans", sans-serif' font-weight="bold" font-size="7.2" textLength="48.4" lengthAdjust="spacingAndGlyphs" fill="#000" stroke="#000" stroke-width="0.25">Mainichi Shimbun</text>
<text x="35.2" y="332.9" font-family='"Liberation Sans", sans-serif' font-weight="bold" font-size="8.8" textLength="280.6" lengthAdjust="spacingAndGlyphs" fill="#000" stroke="#000" stroke-width="0.25">&#169; 2013 Midori Aoyagi and Shoko Yamaguchi, National Institute for Environmental Studies, Japan</text>
<text x="418.3" y="328.7" font-family='"Liberation Sans", sans-serif' font-style="italic" font-size="6.7" textLength="40.2" lengthAdjust="spacingAndGlyphs" fill="#000" stroke="#000" stroke-width="0.12">updated through</text>
<text x="421.2" y="336.9" font-family='"Liberation Sans", sans-serif' font-style="italic" font-size="6.7" textLength="37.3" lengthAdjust="spacingAndGlyphs" fill="#000" stroke="#000" stroke-width="0.12">December 2013</text>
<rect x="0" y="0" width="465" height="1" fill="#6b6b6b"/>
<rect x="0" y="0" width="1" height="344" fill="#6b6b6b"/>
<rect x="463.7" y="0" width="1.3" height="344" fill="#6b6b6b"/>
<rect x="0" y="342.5" width="465" height="1.5" fill="#6b6b6b"/>
</svg></body></html>
